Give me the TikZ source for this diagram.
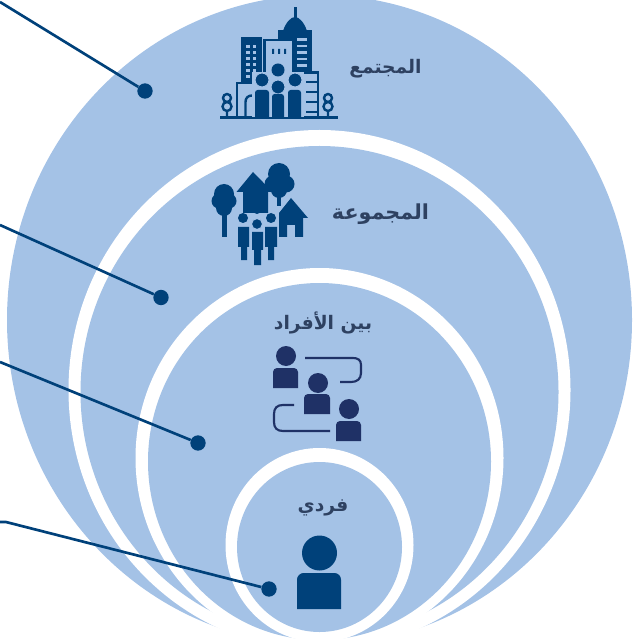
\documentclass[tikz,border=0pt]{standalone}
\usepackage{fontspec}
\newfontfamily\arabicfont[Script=Arabic]{DejaVu Sans}
\TeXXeTstate=1
\newlength{\du}
\setlength{\du}{0.75pt}
\definecolor{ringblue}{rgb}{0.643, 0.761, 0.902}
\definecolor{darkblue}{rgb}{0.000, 0.255, 0.478}
\definecolor{navyblue}{rgb}{0.122, 0.192, 0.400}
\definecolor{labelblue}{rgb}{0.180, 0.255, 0.380}
\tikzset{
  bluefill/.style={fill=ringblue},
  whitefill/.style={fill=white},
  iconfill/.style={fill=darkblue},
  navyfill/.style={fill=navyblue},
  iconline/.style={draw=darkblue,line width=1.8pt},
  navyline/.style={draw=navyblue,line width=1.6pt},
  haloline/.style={draw=ringblue,line width=0.8pt,fill=darkblue},
  leaderline/.style={draw=darkblue,line width=2pt},
  leaderdot/.style={circle,fill=darkblue,inner sep=0pt,minimum size=11.5pt},
  ringlabel/.style={text=labelblue,font=\arabicfont\bfseries\fontsize{14pt}{16pt}\selectfont}
}
\begin{document}
\begin{tikzpicture}[x=\du,y=-1\du]
\useasboundingbox (0,0) rectangle (637,641);
% rings
\path[bluefill] (319.5,320) ellipse [x radius=312.5,y radius=325];
\path[whitefill] (319.5,390) ellipse [x radius=251,y radius=260];
\path[bluefill] (319.5,392) ellipse [x radius=239,y radius=246];
\path[whitefill] (319.5,458) ellipse [x radius=184,y radius=190];
\path[bluefill] (319.5,461.5) ellipse [x radius=171.5,y radius=178.5];
\path[whitefill] (319.5,545) ellipse [x radius=94,y radius=97];
\path[bluefill] (319.5,547) ellipse [x radius=82.5,y radius=85];
% leader lines
\coordinate (endcommunity) at (0,2);
\coordinate (endgroup) at (0,225);
\coordinate (endpeople) at (0,362);
\coordinate (endsingle) at (0,522);
\coordinate (bendsingle) at (6,522);
\node[leaderdot] (dotcommunity) at (145,91) {};
\node[leaderdot] (dotgroup) at (161,297.5) {};
\node[leaderdot] (dotpeople) at (198,443) {};
\node[leaderdot] (dotsingle) at (269,589) {};
\draw[leaderline] (endcommunity) -- (dotcommunity);
\draw[leaderline] (endgroup) -- (dotgroup);
\draw[leaderline] (endpeople) -- (dotpeople);
\draw[leaderline] (endsingle) -- (bendsingle) -- (dotsingle);
% labels
\node[ringlabel] (labelcommunity) at (385.5,69) {\beginR المجتمع\endR};
\node[ringlabel,font=\arabicfont\bfseries\fontsize{15.5pt}{17pt}\selectfont] (labelgroup) at (380.5,214) {\beginR المجموعة\endR};
\node[ringlabel] (labelpeople) at (323,323) {\beginR بين الأفراد\endR};
\node[ringlabel] (labelsingle) at (323,508) {\beginR فردي\endR};
% single person
\path[iconfill] (319.5,553) circle (17.5);
\path[iconfill] (297,609) [rounded corners=5pt] -- (297,573) -- (341,573) [sharp corners] -- (341,609) -- cycle;
% three people
\path[navyfill] (286,356) circle (10);
\path[navyfill] (273,388) [rounded corners=3pt] -- (273,368) -- (298,368) [sharp corners] -- (298,388) -- cycle;
\path[navyfill] (318,383) circle (10);
\path[navyfill] (304,414) [rounded corners=3pt] -- (304,394) -- (330,394) [sharp corners] -- (330,414) -- cycle;
\path[navyfill] (349,409) circle (10);
\path[navyfill] (336,441) [rounded corners=3pt] -- (336,421) -- (361,421) [sharp corners] -- (361,441) -- cycle;
\draw[navyline] (305,358) -- (353,358) .. controls (358,358) and (361,360) .. (361,365) -- (361,373) .. controls (361,379) and (357,382) .. (351,382) -- (340,382);
\draw[navyline] (294,405) -- (283,405) .. controls (277,405) and (274,408) .. (274,414) -- (274,422) .. controls (274,428) and (277,431) .. (283,431) -- (330,431);
% group: trees and houses
\path[iconfill] (224,194) circle (10) (219,201) circle (7.5) (229,201) circle (7.5) (224,208) circle (8);
\path[iconfill] (221.5,205) rectangle (226.5,237);
\path[iconfill] (279,174) circle (11) (273,184) circle (8.5) (286,184) circle (8.5) (279,190) circle (8);
\path[iconfill] (277,190) rectangle (281,206);
\path[iconfill] (253,172) -- (272.5,192) -- (268,192) -- (268,215) -- (243,215) -- (243,192) -- (236.5,192) -- cycle;
\path[iconfill] (291,198) -- (308,218) -- (303,218) -- (303,237) -- (295,237) -- (295,225) -- (287,225) -- (287,237) -- (279,237) -- (279,218) -- (275,218) -- cycle;
\path[bluefill] (236,213) rectangle (278.5,268);
\path[iconfill] (257,209) circle (5);
\path[iconfill] (243,218) circle (5);
\path[iconfill] (271,218) circle (5);
\path[iconfill] (238,227) -- (249,227) -- (249,247) -- (247,247) -- (247,260) -- (241,260) -- (241,247) -- (238,247) -- cycle;
\path[iconfill] (265,227) -- (277,227) -- (277,247) -- (274,247) -- (274,260) -- (268,260) -- (268,247) -- (265,247) -- cycle;
\path[haloline] (257,224) circle (5.5);
\path[iconfill] (252,232) -- (263,232) -- (263,250) -- (261,250) -- (261,265) -- (254,265) -- (254,250) -- (252,250) -- cycle;
% community: city and people
\path[iconfill] (294,7) rectangle (296.5,22);
\path[iconfill] (283,31) .. controls (286,22) and (291,17) .. (295,17) .. controls (299,17) and (304,22) .. (307,31) -- cycle;
\path[iconfill] (278,30) rectangle (312,72);
\path[iconfill] (241,37) rectangle (262,83);
\foreach \rowy in {45,51,57,63,69,75} {
\path[bluefill] (246,\rowy) rectangle (249.5,\rowy+3.5);
\path[bluefill] (252.5,\rowy) rectangle (256,\rowy+3.5);
}
\foreach \rowy in {38.5,45,51.5,58,64.5} {
\path[bluefill] (296.5,\rowy) rectangle (307,\rowy+2.5);
}
\path[bluefill] (264,40) rectangle (292,72);
\draw[iconline] (264.5,83) -- (264.5,40) -- (291.5,40);
\path[iconfill] (272,49) rectangle (274,54) (278,49) rectangle (280,54) (284,49) rectangle (286,54);
\draw[iconline] (237,116) -- (237,83) -- (256,83);
\draw[iconline] (300,72.5) -- (318,72.5) -- (318,116);
\foreach \rowy in {82,92,102,112} {
\draw[iconline,line width=1.2pt] (306,\rowy) -- (318,\rowy);
}
\draw[iconline] (245.5,116) -- (245.5,102) .. controls (245.5,98) and (248,95.5) .. (252,95.5);
\draw[iconline] (220,117.5) -- (338,117.5);
\draw[iconline] (227,98) circle (4) (227,106.5) circle (4.5) (227,111) -- (227,117);
\draw[iconline] (328,98) circle (4) (328,106.5) circle (4.5) (328,111) -- (328,117);
\path[bluefill] (252,72) rectangle (304,117);
\path[iconfill] (278,70) circle (6.5);
\path[haloline] (262,80) circle (7);
\path[haloline] (295,80) circle (7);
\path[haloline] (278,87) circle (7);
\path[iconfill] (255,117) [rounded corners=2pt] -- (255,90) -- (269,90) [sharp corners] -- (269,117) -- cycle;
\path[iconfill] (272,118) [rounded corners=2pt] -- (272,94) -- (284,94) [sharp corners] -- (284,118) -- cycle;
\path[iconfill] (288,117) [rounded corners=2pt] -- (288,90) -- (301,90) [sharp corners] -- (301,117) -- cycle;
\end{tikzpicture}
\end{document}
